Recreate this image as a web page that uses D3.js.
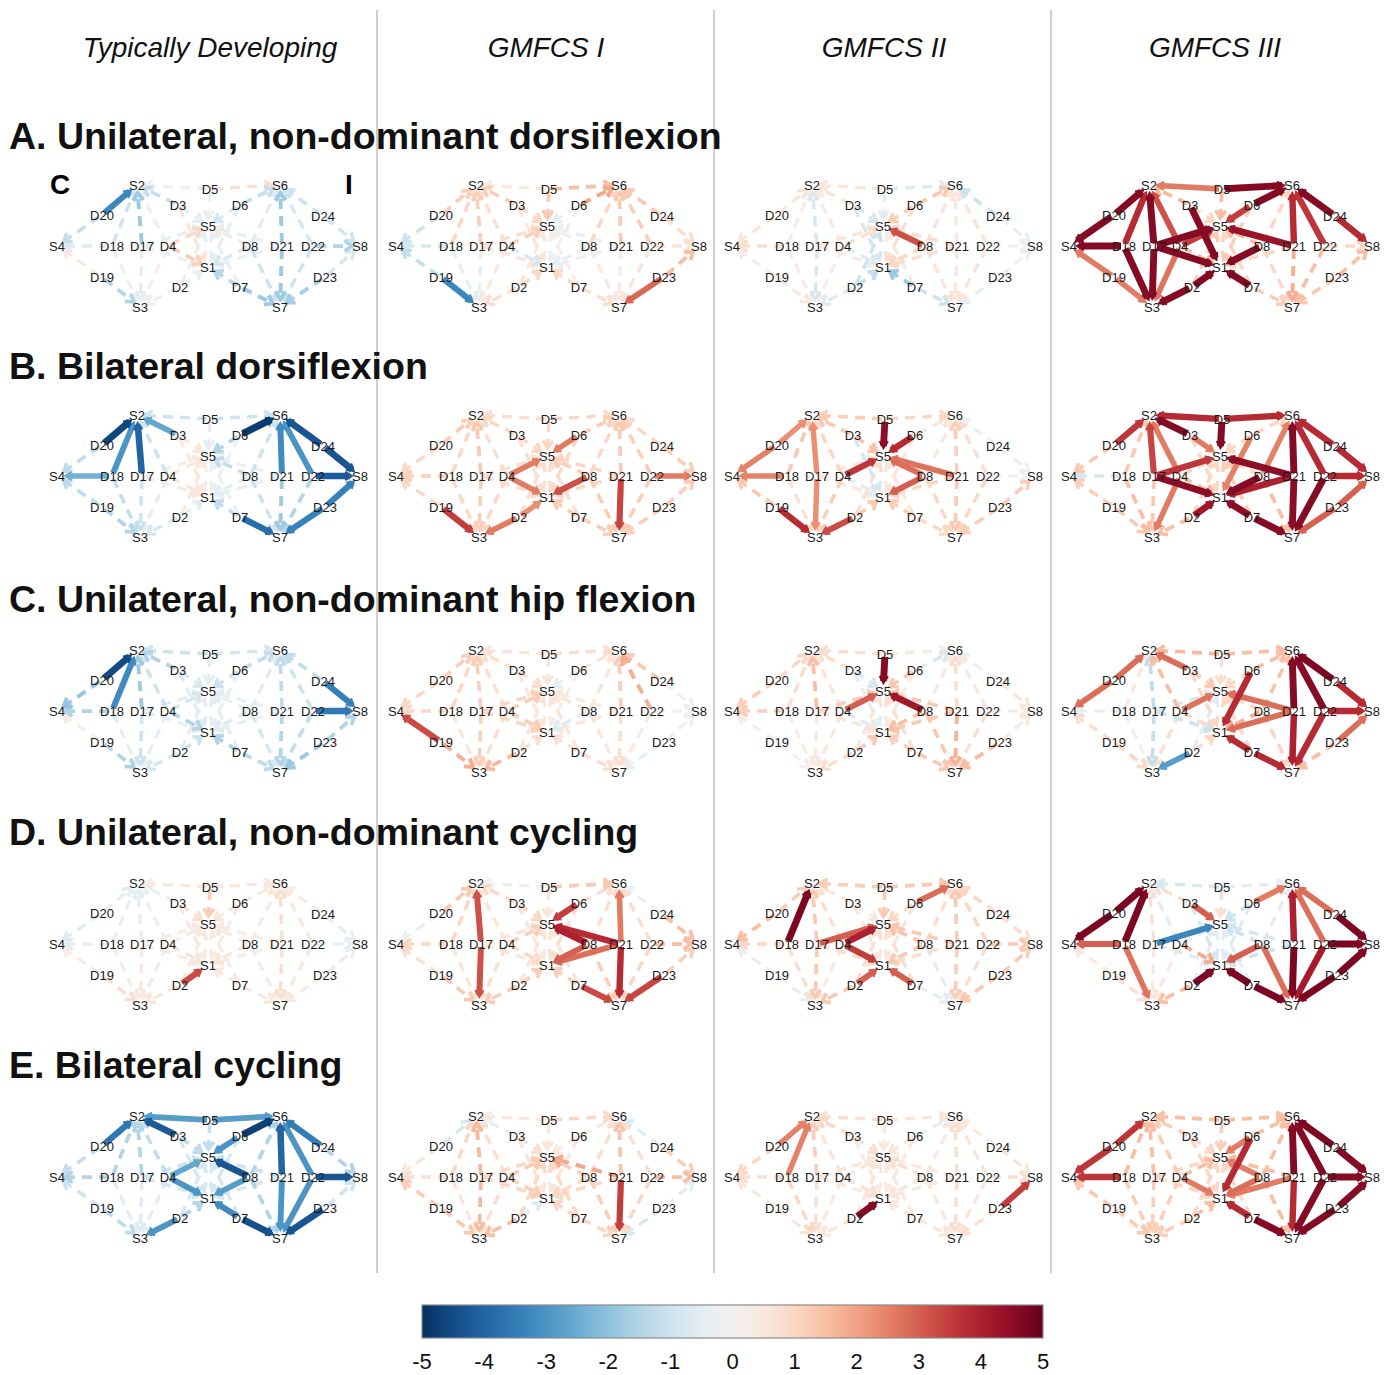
<!DOCTYPE html>
<html>
<head>
<meta charset="utf-8">
<script src="https://cdn.jsdelivr.net/npm/d3@7"></script>
<style>
  body { margin: 0; background: #fff; }
  svg { display: block; }
</style>
</head>
<body>
<script>
// Groups (columns) and tasks (rows)
const groups = ["Typically Developing", "GMFCS I", "GMFCS II", "GMFCS III"];
const tasks = [
  "A. Unilateral, non-dominant dorsiflexion",
  "B. Bilateral dorsiflexion",
  "C. Unilateral, non-dominant hip flexion",
  "D. Unilateral, non-dominant cycling",
  "E. Bilateral cycling"
];

// Optode montage layout (layout units)
const nodeNames = ["S2","D5","S6","D20","D3","D6","D24","S5","S4","D18","D17","D4","D8","D21","D22","S8","S1","D19","D2","D23","D7","S3","S7"];
const nodeLX = [-71, 2, 72, -106, -30, 32, 115, 0, -151, -96, -66, -40, 42, 74, 105, 152, 0, -106, -28, 117, 32, -68, 72];
const nodeLY = [-61, -57, -61, -31, -41, -41, -30, -20, 0, 0, 0, 0, 0, 0, 0, 0, 21, 31, 41, 31, 41, 61, 61];

// Channels: [source, detector]
const channels = [
  ["S2","D20"],["S2","D18"],["S2","D17"],["S2","D3"],["S2","D5"],["S2","D4"],
  ["S4","D20"],["S4","D18"],["S4","D19"],
  ["S3","D19"],["S3","D18"],["S3","D17"],["S3","D2"],["S3","D4"],
  ["S5","D3"],["S5","D4"],["S5","D5"],["S5","D6"],["S5","D8"],["S5","D17"],["S5","D21"],["S5","D2"],["S5","D7"],
  ["S1","D4"],["S1","D8"],["S1","D2"],["S1","D7"],["S1","D3"],["S1","D6"],["S1","D17"],["S1","D21"],
  ["S6","D24"],["S6","D22"],["S6","D21"],["S6","D6"],["S6","D5"],["S6","D8"],
  ["S8","D24"],["S8","D22"],["S8","D23"],
  ["S7","D23"],["S7","D22"],["S7","D21"],["S7","D7"],["S7","D8"]
];

// t-values per channel, one list per task x group
const A_TD = [-3.3,-1.0,-1.8,-1.2,-0.3,-0.3, -1.2,-0.6,0.5, -1.5,-0.3,-0.5,-0.2,0.2,
  -0.5,1.0,-0.3,-0.8,0.5,-0.5,-0.4,-0.4,-0.4, 1.2,-0.8,-0.3,-1.4,0.6,-0.5,-0.3,-0.3,
  -1.0,-0.8,-1.8,-1.2,0.8,-0.6, -1.0,-1.5,-0.8, -1.7,-1.0,-1.8,-1.8,-1.0];
const A_G1 = [1.2,1.0,1.2,1.2,0.5,0.8, -1.0,-0.8,-1.2, -3.3,-0.4,-0.4,0.8,0.5,
  1.0,1.2,1.3,-0.4,-0.3,0.8,-0.3,0.5,0.3, -0.8,-0.4,1.0,1.0,0.6,-0.3,0.6,-0.3,
  1.3,1.2,1.3,1.9,1.5,1.0, 0.8,0.6,1.5, 2.9,0.6,0.4,0.8,0.5];
const A_G2 = [0.6,0.4,-0.8,0.6,0.6,0.4, 0.6,0.8,0.3, 0.5,0.3,-0.8,-0.6,0.3,
  -0.8,0.8,-0.5,1.2,3.2,0.6,0.8,-1.0,0.4, -0.6,1.0,-1.2,-1.8,-0.8,0.8,0.4,0.8,
  -1.0,0.6,0.5,1.3,-0.6,0.6, -0.4,-0.3,-0.3, -0.4,0.6,0.6,-1.0,0.6];
const A_G3 = [4.6,3.8,4.6,1.6,2.6,3.2, 4.6,4.6,2.6, 2.6,4.6,4.6,4.6,2.7,
  1.0,3.5,1.5,3.5,1.5,4.6,4.3,1.2,1.0, 1.5,4.6,4.6,4.6,4.6,1.2,4.6,1.0,
  4.6,3.6,3.8,4.6,4.6,1.0, 3.8,1.0,1.5, 1.3,1.5,1.8,1.2,1.0];

const B_TD = [-4.6,-3.0,-4.0,-2.6,-1.0,-1.0, -1.3,-2.4,-1.3, -1.5,-1.2,-1.0,-0.8,-0.5,
  0.5,0.5,-0.4,-1.5,-1.2,0.3,-0.3,0.5,-0.3, 0.6,-0.5,-0.5,-1.2,0.5,-0.3,0.4,-0.4,
  -4.3,-3.0,-3.2,-4.8,-1.0,-1.0, -4.3,-4.2,-3.4, -3.4,-1.5,-1.8,-3.8,-1.0];
const B_G1 = [1.2,1.0,1.3,1.0,0.8,0.8, 1.0,1.2,1.0, 3.5,1.0,1.2,2.6,1.0,
  1.0,2.6,1.0,2.6,1.2,0.8,1.0,0.8,0.8, 2.6,3.2,2.3,1.2,0.8,1.0,0.8,1.0,
  1.0,1.2,1.3,1.2,1.0,1.0, 1.2,2.6,1.2, 1.2,1.2,3.4,1.2,1.2];
const B_G2 = [2.3,1.3,2.3,1.3,1.2,1.0, 2.5,2.5,1.3, 3.8,0.8,2.3,3.3,1.2,
  1.4,3.6,4.5,3.8,2.8,0.5,2.7,0.8,0.6, -0.6,3.0,1.3,1.2,-0.8,0.6,0.5,1.0,
  -0.3,0.8,1.2,0.6,1.0,0.5, -0.3,-0.2,1.2, 1.2,1.0,1.3,1.0,1.0];
const B_G3 = [3.6,1.3,3.4,4.6,3.8,2.6, 1.3,-0.8,1.2, 1.3,1.5,1.3,1.5,2.6,
  2.6,1.0,4.6,1.0,1.0,3.6,4.5,1.0,1.2, 1.5,4.6,4.2,4.5,1.0,2.5,4.5,4.0,
  3.8,3.8,4.6,1.0,3.8,2.5, 3.8,3.8,3.0, 3.0,4.6,4.5,4.6,1.5];

const C_TD = [-4.5,-3.2,-1.8,-1.5,-1.0,-1.0, -1.9,-1.5,0.3, -1.5,-0.5,-1.0,-0.8,-0.5,
  -0.8,-0.8,-0.5,-1.0,-0.5,-0.5,-0.4,-0.5,-0.5, -1.5,-0.6,-1.0,-1.5,-0.6,-0.4,-0.4,-0.3,
  -1.2,-1.0,-1.3,-1.2,-0.8,-0.6, -3.4,-3.6,-1.5, -1.8,-1.2,-1.5,-1.3,-0.8];
const C_G1 = [1.2,1.0,1.2,0.8,0.6,0.8, 1.0,1.0,3.3, 1.8,0.6,1.2,1.6,0.8,
  0.8,1.2,0.6,-0.5,0.6,1.0,0.4,0.6,0.6, 1.2,-0.6,0.8,0.8,0.6,0.3,1.0,0.5,
  1.3,1.8,1.2,0.6,0.8,0.6, -0.2,-0.2,-0.3, -0.4,0.5,0.8,0.8,0.6];
const C_G2 = [1.0,0.8,1.5,0.8,0.8,0.6, 1.2,1.2,0.3, 0.2,0.3,0.5,0.8,0.5,
  -0.8,3.0,4.6,1.3,4.2,1.2,1.3,0.6,0.8, -0.6,1.5,1.3,1.2,-0.5,0.5,0.6,1.3,
  -0.3,0.5,0.8,-0.8,0.5,0.5, 0.6,0.4,0.5, 1.5,0.8,1.7,1.3,1.3];
const C_G3 = [2.8,0.5,-1.2,2.8,1.6,1.5, 2.8,-0.4,0.8, 1.0,-0.3,-1.2,-2.8,0.8,
  1.3,2.7,0.8,1.0,1.0,-0.8,2.8,-0.6,1.0, 1.0,1.8,1.0,3.8,1.0,3.8,-1.0,2.8,
  4.7,4.6,4.6,1.5,1.5,1.4, 3.8,3.8,2.8, 1.5,3.8,4.0,3.8,1.0];

const D_TD = [-0.5,-0.4,-0.5,-0.4,0.5,-0.3, -0.6,-0.5,0.4, 0.8,0.3,0.5,0.6,0.4,
  0.8,0.5,1.2,0.6,0.5,0.3,0.4,0.5,0.4, 0.6,0.6,3.3,0.5,0.4,0.4,0.3,0.3,
  0.3,0.5,0.8,0.5,0.6,0.4, -0.5,-0.5,-0.4, 0.4,0.5,0.8,0.5,0.4];
const D_G1 = [1.3,1.0,3.2,1.0,-0.3,0.6, -0.3,1.0,0.8, 1.3,0.6,3.2,1.2,0.8,
  1.0,1.2,0.6,3.5,4.0,0.6,3.8,0.6,0.6, 1.0,3.0,1.2,1.2,0.5,0.8,0.6,2.8,
  -0.3,0.8,2.6,0.8,1.3,0.8, 1.5,1.5,1.2, 3.4,1.0,3.8,3.3,1.2];
const D_G2 = [1.2,4.7,1.3,0.6,1.2,0.8, 1.5,1.0,-0.4, -0.4,0.8,1.3,1.3,0.5,
  0.4,4.0,1.3,1.0,1.4,3.0,1.3,0.8,0.8, 3.5,1.3,3.0,3.0,0.5,0.6,0.8,0.8,
  1.0,1.0,1.3,2.8,1.3,0.8, 0.8,1.3,1.2, 1.3,0.8,1.2,-0.4,-0.5];
const D_G3 = [4.7,4.7,0.8,0.8,-0.8,-0.5, 4.7,3.0,0.5, 0.8,2.7,0.5,1.5,0.5,
  3.0,-0.5,0.8,-1.0,-1.0,-3.3,-0.8,-0.5,-0.5, 1.8,3.0,4.7,4.7,-0.8,-0.6,-0.6,-1.0,
  2.8,2.8,4.0,2.6,-0.5,-0.5, 4.7,4.7,4.7, 4.7,4.1,4.7,4.7,2.8];

const E_TD = [-3.6,-1.5,-1.5,-4.2,-2.8,-1.2, -1.2,-1.5,-1.0, -1.3,-0.5,-0.6,-3.0,-0.5,
  -1.3,-2.6,-1.2,-3.0,-4.3,-1.0,-1.0,-0.8,-0.8, -3.0,-2.8,-1.5,-3.2,-0.8,-0.8,-0.8,-0.8,
  -3.5,-3.0,-4.0,-4.7,-2.8,-1.5, -1.5,-4.3,-1.0, -4.3,-3.0,-3.0,-4.4,-1.5];
const E_G1 = [-0.8,1.0,1.6,-0.5,0.5,0.8, 0.6,0.8,1.2, 1.3,0.6,1.6,1.5,0.8,
  0.8,1.3,0.6,0.5,1.2,1.0,1.9,1.0,1.0, 1.2,1.0,-0.6,1.0,0.6,0.6,1.0,1.0,
  -0.6,0.8,1.4,0.5,1.0,0.8, 1.2,1.5,-0.5, -0.8,1.0,3.5,1.0,1.2];
const E_G2 = [2.5,2.5,1.2,1.0,0.8,0.6, 1.0,0.8,0.5, 0.6,1.0,0.8,0.6,0.5,
  0.8,0.6,0.5,0.6,0.8,0.6,0.5,0.6,0.5, 0.8,0.6,4.6,0.6,0.5,0.5,0.5,0.5,
  0.5,0.6,0.8,-0.5,0.6,0.5, 0.6,0.8,3.5, 0.8,0.6,0.8,0.6,0.5];
const E_G3 = [3.6,1.5,1.5,1.2,1.5,1.2, 3.6,3.6,1.3, 1.3,1.2,1.2,1.2,1.2,
  1.0,1.5,1.2,2.6,2.6,1.0,1.5,1.0,1.0, 2.6,2.8,1.5,3.8,1.0,3.8,1.0,2.6,
  4.7,4.6,4.6,1.5,1.5,1.5, 4.6,4.6,4.6, 4.6,4.6,3.8,4.6,1.5];

const panelValues = [
  [A_TD, A_G1, A_G2, A_G3],
  [B_TD, B_G1, B_G2, B_G3],
  [C_TD, C_G1, C_G2, C_G3],
  [D_TD, D_G1, D_G2, D_G3],
  [E_TD, E_G1, E_G2, E_G3]
];

const colorTicks = [-5, -4, -3, -2, -1, 0, 1, 2, 3, 4, 5];
const hemisphereLabels = ["C", "I"];

// ---------------------------------------------------------------
const W = 1397, H = 1375;
const FONT = "'Liberation Sans', Arial, Helvetica, sans-serif";
const svg = d3.select("body").append("svg")
  .attr("width", W).attr("height", H)
  .style("font-family", FONT);

const colScale = d3.scaleOrdinal().domain(d3.range(groups.length)).range([208, 547, 883, 1220]);
const rowScale = d3.scaleOrdinal().domain(d3.range(tasks.length)).range([246, 476, 711, 944, 1177]);

const color = d3.scaleDiverging(t => d3.interpolateRdBu(1 - t)).domain([-5, 0, 5]).clamp(true);
const SIG = 2; // |t| at or above this is drawn solid
const widthScale = d3.scaleLinear().domain([0, 5]).range([3, 5.5]);
const sigWidth = d3.scaleLinear().domain([2, 5]).range([5.2, 7.2]);

// separators
[377, 714, 1051].forEach(x => {
  svg.append("line").attr("x1", x).attr("x2", x).attr("y1", 10).attr("y2", 1273)
    .attr("stroke", "#b5b5b5").attr("stroke-width", 1.3);
});

// column titles
groups.forEach((g, i) => {
  svg.append("text")
    .attr("x", [210, 546, 884, 1215][i]).attr("y", 57)
    .attr("text-anchor", "middle")
    .attr("font-size", 28).attr("font-style", "italic")
    .attr("fill", "#111")
    .text(g);
});

const nodeIndex = new Map(nodeNames.map((n, i) => [n, i]));

function drawPanel(r, c) {
  const cx = colScale(c), cy = rowScale(r);
  const x = d3.scaleLinear().domain([-152, 152]).range([cx - 152, cx + 152]);
  const y = d3.scaleLinear().domain([-61, 61]).range([cy - 61, cy + 61]);
  const vals = panelValues[r][c];
  const g = svg.append("g");

  const items = channels.map((ch, i) => ({ s: ch[0], d: ch[1], v: vals[i] }))
    .sort((a, b) => Math.abs(a.v) - Math.abs(b.v));

  items.forEach(e => {
    const si = nodeIndex.get(e.s), di = nodeIndex.get(e.d);
    const sx = x(nodeLX[si]), sy = y(nodeLY[si]);
    const dx = x(nodeLX[di]), dy = y(nodeLY[di]);
    const len = Math.hypot(sx - dx, sy - dy);
    const ux = (sx - dx) / len, uy = (sy - dy) / len;
    const sig = Math.abs(e.v) >= SIG;
    const w = sig ? sigWidth(Math.abs(e.v)) : widthScale(Math.abs(e.v));
    const col = color(e.v);
    const tipX = sx - ux * 8, tipY = sy - uy * 8;
    const startX = dx + ux * 3, startY = dy + uy * 3;
    g.append("line")
      .attr("x1", startX).attr("y1", startY)
      .attr("x2", tipX - ux * 2).attr("y2", tipY - uy * 2)
      .attr("stroke", col).attr("stroke-width", w)
      .attr("stroke-dasharray", sig ? null : "10,7");
    // arrowhead at the source end
    const L = sig ? 8 : 9, ang = sig ? 0.55 : 0.6;
    const bx = -ux, by = -uy;
    const a1x = tipX + L * (bx * Math.cos(ang) - by * Math.sin(ang));
    const a1y = tipY + L * (bx * Math.sin(ang) + by * Math.cos(ang));
    const a2x = tipX + L * (bx * Math.cos(-ang) - by * Math.sin(-ang));
    const a2y = tipY + L * (bx * Math.sin(-ang) + by * Math.cos(-ang));
    g.append("path")
      .attr("d", `M${a1x},${a1y}L${tipX},${tipY}L${a2x},${a2y}`)
      .attr("fill", "none").attr("stroke", col)
      .attr("stroke-width", sig ? 2 : Math.min(w, 4)).attr("stroke-linejoin", "miter");
  });

  nodeNames.forEach((n, i) => {
    g.append("text")
      .attr("x", x(nodeLX[i])).attr("y", y(nodeLY[i]))
      .attr("text-anchor", "middle").attr("dy", "0.36em")
      .attr("font-size", 13).attr("fill", "#1a1a1a")
      .text(n);
  });
}

for (let r = 0; r < tasks.length; r++) {
  for (let c = 0; c < groups.length; c++) drawPanel(r, c);
}

// task titles
const titleY = [149, 379, 612, 845, 1078];
tasks.forEach((t, i) => {
  svg.append("text")
    .attr("x", 9).attr("y", titleY[i])
    .attr("font-size", 37.5).attr("font-weight", "bold")
    .attr("fill", "#111")
    .text(t);
});

// hemisphere markers
svg.append("text").attr("x", 60).attr("y", 194).attr("text-anchor", "middle")
  .attr("font-size", 28).attr("font-weight", "bold").text(hemisphereLabels[0]);
svg.append("text").attr("x", 349).attr("y", 194).attr("text-anchor", "middle")
  .attr("font-size", 28).attr("font-weight", "bold").text(hemisphereLabels[1]);

// colour bar
const barX = d3.scaleLinear().domain([-5, 5]).range([422, 1043]);
const defs = svg.append("defs");
const grad = defs.append("linearGradient").attr("id", "cbar");
d3.range(0, 1.0001, 0.02).forEach(t => {
  grad.append("stop").attr("offset", `${t * 100}%`).attr("stop-color", color(-5 + 10 * t));
});
svg.append("rect")
  .attr("x", barX(-5)).attr("y", 1305)
  .attr("width", barX(5) - barX(-5)).attr("height", 33)
  .attr("fill", "url(#cbar)").attr("stroke", "#8a8a8a").attr("stroke-width", 1.2);
colorTicks.forEach(v => {
  svg.append("text")
    .attr("x", barX(v)).attr("y", 1369)
    .attr("text-anchor", "middle")
    .attr("font-size", 22).attr("fill", "#111")
    .text(v);
});
</script>
</body>
</html>
